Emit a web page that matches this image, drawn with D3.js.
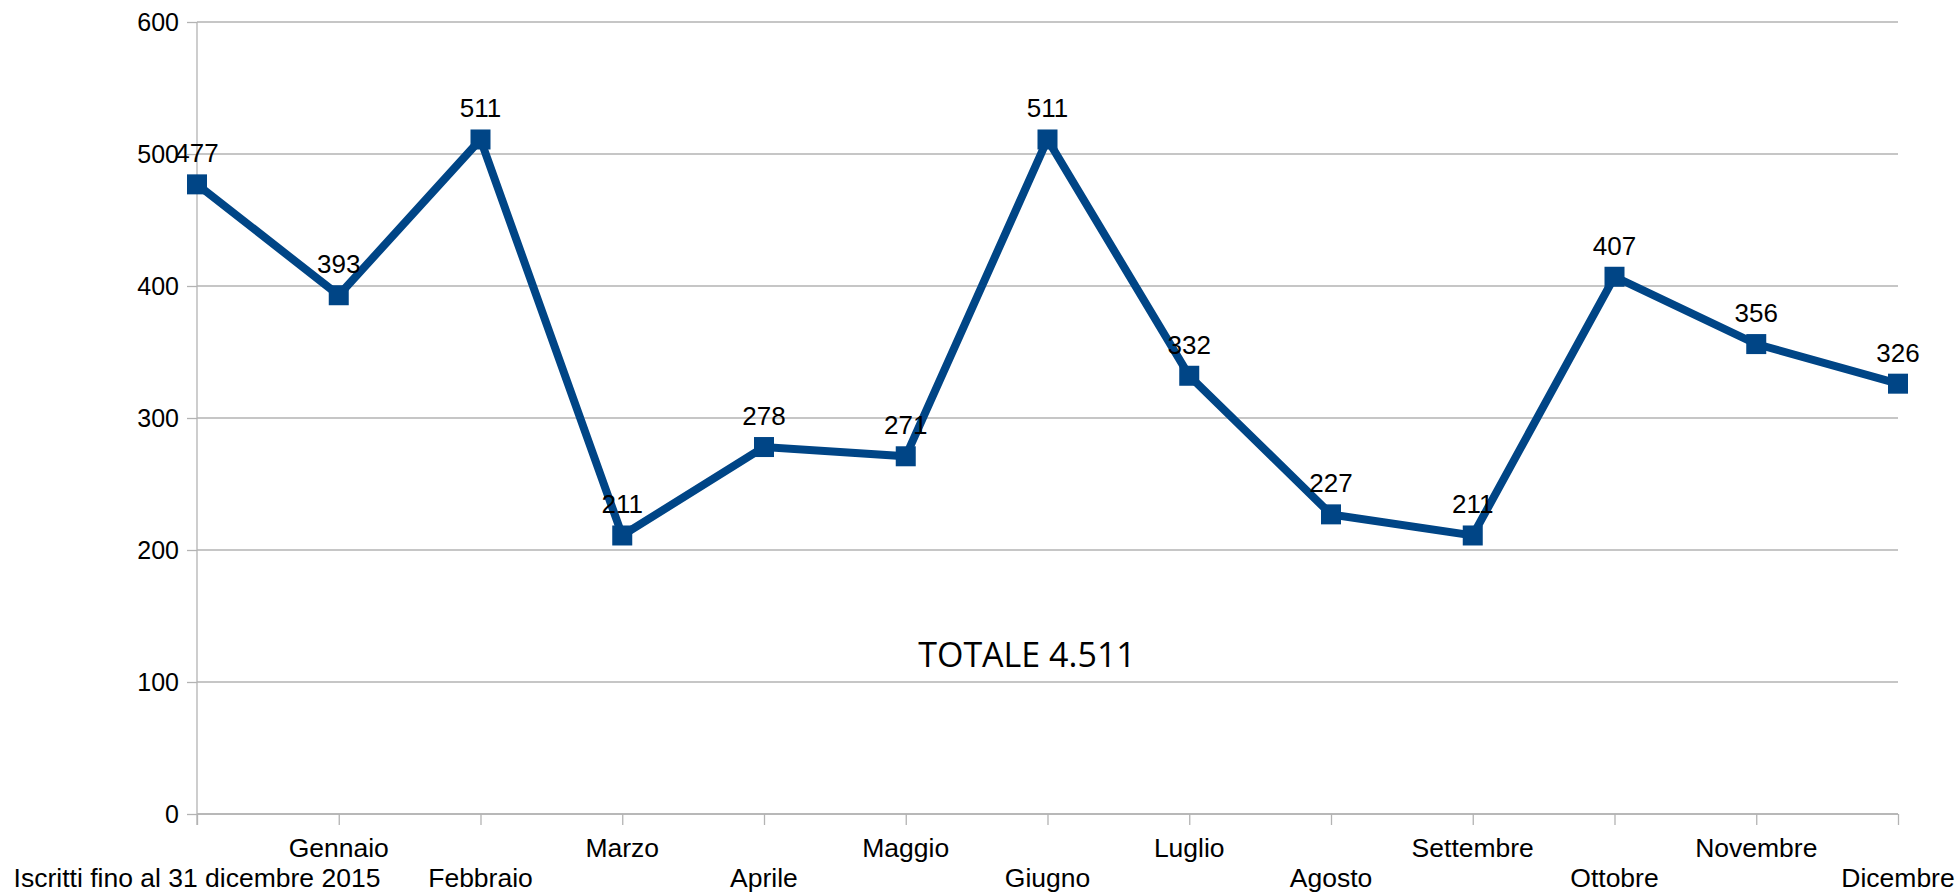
<html>
<head>
<style>
  body { margin: 0; background: #ffffff; }
  text { font-family: "Liberation Sans", Arial, sans-serif; fill: #000000; }
</style>
</head>
<body>
<svg id="chart" width="1958" height="894"></svg>
<script src="https://cdn.jsdelivr.net/npm/d3@7"></script>
<script>
// chart data
let categories = ["Iscritti fino al 31 dicembre 2015", "Gennaio", "Febbraio", "Marzo", "Aprile",
  "Maggio", "Giugno", "Luglio", "Agosto", "Settembre", "Ottobre", "Novembre", "Dicembre"]
let iscritti = [477, 393, 511, 211, 278, 271, 511, 332, 227, 211, 407, 356, 326]
let yTicks = [0, 100, 200, 300, 400, 500, 600]
let totaleLabel = "TOTALE 4.511"

let margin = {top: 22, right: 60, bottom: 80, left: 197}
let svg = d3.select("#chart")
let width = +svg.attr("width") - margin.left - margin.right
let height = +svg.attr("height") - margin.top - margin.bottom
let body = svg.append("g").attr("transform", `translate(${margin.left},${margin.top})`)

let x = d3.scalePoint().domain(categories).range([0, width]).padding(0)
let y = d3.scaleLinear().domain([0, 600]).range([height, 0])

let data = categories.map((c, i) => ({cat: c, value: iscritti[i], i: i}))

// horizontal gridlines
body.selectAll(".grid")
  .data(yTicks)
  .enter().append("line")
  .attr("x1", 0).attr("x2", width)
  .attr("y1", d => y(d)).attr("y2", d => y(d))
  .attr("stroke", "#b3b3b3").attr("stroke-width", 1.3)

// y axis
let yAxis = body.append("g")
  .call(d3.axisLeft(y).tickValues(yTicks).tickSize(10).tickPadding(8))
yAxis.select(".domain").attr("stroke", "#b3b3b3").attr("stroke-width", 1.3)
  .attr("d", `M0,${height + 11}V0`)
yAxis.selectAll(".tick line").attr("stroke", "#b3b3b3").attr("stroke-width", 1.3)
yAxis.selectAll(".tick text")
  .style("font-family", "'Liberation Sans', Arial, sans-serif")
  .style("font-size", "25px").attr("fill", "#000")

// x axis
let xAxis = body.append("g")
  .attr("transform", `translate(0,${height})`)
  .call(d3.axisBottom(x).tickSize(11).tickFormat(""))
xAxis.select(".domain").attr("stroke", "#b3b3b3").attr("stroke-width", 1.3)
  .attr("d", `M0,0H${width}`)
xAxis.selectAll(".tick line").attr("stroke", "#b3b3b3").attr("stroke-width", 1.3)

// category labels staggered on two rows
body.selectAll(".cat")
  .data(data)
  .enter().append("text")
  .attr("x", d => x(d.cat))
  .attr("y", d => height + (d.i % 2 == 1 ? 43 : 73))
  .attr("text-anchor", "middle")
  .style("font-size", "26.5px")
  .text(d => d.cat)

// line
let line = d3.line()
  .x(d => x(d.cat))
  .y(d => y(d.value))

body.append("path")
  .datum(data)
  .attr("d", line)
  .attr("fill", "none")
  .attr("stroke", "#004586")
  .attr("stroke-width", 8)
  .attr("stroke-linejoin", "miter")

// square markers
body.selectAll(".marker")
  .data(data)
  .enter().append("rect")
  .attr("x", d => x(d.cat) - 10)
  .attr("y", d => y(d.value) - 10)
  .attr("width", 20)
  .attr("height", 20)
  .attr("fill", "#004586")

// value labels
body.selectAll(".val")
  .data(data)
  .enter().append("text")
  .attr("x", d => x(d.cat))
  .attr("y", d => y(d.value) - 22)
  .attr("text-anchor", "middle")
  .style("font-size", "26px")
  .text(d => d.value)

// total annotation
body.append("text")
  .attr("x", 1027 - margin.left)
  .attr("y", 667 - margin.top)
  .attr("text-anchor", "middle")
  .style("font-family", "'Open Sans', sans-serif")
  .style("font-size", "34px")
  .text(totaleLabel)
</script>
</body>
</html>
